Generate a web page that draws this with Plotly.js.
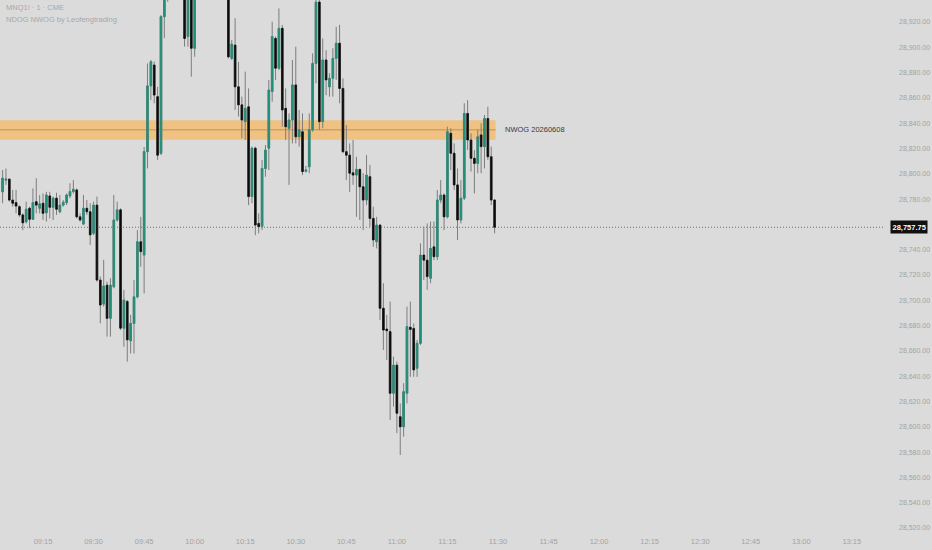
<!DOCTYPE html>
<html>
<head>
<meta charset="utf-8">
<script src="https://cdn.plot.ly/plotly-3.0.1.min.js"></script>
<style>
  html, body { margin: 0; padding: 0; background: #dbdbdb; }
  #chart { width: 932px; height: 550px; }
</style>
</head>
<body>
<div id="chart"></div>
<script>
// 1-minute candles, MNQ1!, session starting 09:03
const sessionDate = '2026-06-09';
const firstBar = '09:03';
const open = [28785.75,28795.0,28795.75,28779.25,28777.25,28774.0,28767.5,28762.0,28772.75,28764.0,
  28778.0,28772.75,28776.75,28769.25,28782.5,28773.5,28780.75,28770.0,28775.25,28777.25,
  28782.5,28786.0,28787.25,28766.0,28760.25,28772.75,28770.0,28753.0,28775.25,28716.0,
  28697.0,28712.0,28685.75,28710.75,28763.5,28771.5,28678.0,28699.0,28668.0,28681.75,
  28702.75,28746.25,28735.75,28817.5,28869.5,28886.0,28861.0,28816.25,28924.25,28939.75,
  28952.5,28961.0,28950.25,28959.5,28953.0,28908.5,28941.25,28899.25,28939.0,28955.0,
  28968.5,28964.0,28956.5,28969.0,28980.0,28970.5,28958.0,28950.0,28891.25,28901.75,
  28868.75,28854.5,28841.25,28853.0,28782.0,28820.25,28760.75,28758.5,28804.25,28820.25,
  28865.0,28907.0,28883.5,28915.0,28851.75,28836.0,28842.5,28870.25,28829.25,28833.25,
  28802.0,28805.5,28834.75,28887.25,28935.75,28841.25,28890.0,28868.75,28875.5,28891.25,
  28903.25,28867.5,28817.5,28814.75,28800.75,28799.0,28803.5,28789.75,28779.25,28797.75,
  28764.75,28746.25,28759.5,28693.75,28677.25,28675.25,28626.5,28648.75,28608.0,28600.0,
  28626.5,28678.75,28677.75,28646.25,28666.0,28735.75,28731.75,28717.5,28742.25,28734.5,
  28779.25,28783.25,28766.0,28832.0,28816.25,28791.25,28763.5,28780.75,28847.75,28826.75,
  28812.25,28808.25,28830.75,28821.5,28843.75,28813.5,28779.25];
const high = [28803.0,28804.25,28796.5,28787.25,28787.25,28775.25,28768.75,28778.0,28774.0,28788.5,
  28796.5,28783.25,28784.5,28785.75,28785.75,28782.0,28785.0,28783.25,28779.25,28784.5,
  28792.5,28795.0,28788.5,28768.75,28783.25,28779.25,28776.75,28778.0,28782.0,28718.75,
  28732.0,28714.75,28717.5,28783.25,28778.0,28772.75,28708.25,28700.25,28688.5,28716.0,
  28755.5,28766.0,28821.25,28887.25,28890.0,28888.75,28868.75,28925.5,28949.25,28958.0,
  28968.0,28972.0,28966.0,28970.0,28958.0,28948.0,28946.0,28952.0,28962.0,28975.0,
  28985.0,28978.0,28972.0,28988.0,28990.0,28978.0,28966.0,28956.0,28905.75,28923.0,
  28888.5,28861.0,28880.75,28867.5,28821.5,28821.5,28768.75,28811.0,28822.75,28874.25,
  28920.25,28908.5,28930.75,28917.75,28867.5,28847.75,28890.0,28900.5,28850.5,28847.75,
  28806.25,28847.75,28895.25,28945.25,28941.25,28907.0,28897.75,28879.5,28899.25,28916.25,
  28917.75,28875.5,28838.5,28824.0,28826.75,28813.5,28804.0,28800.5,28814.75,28807.0,
  28774.0,28766.0,28760.0,28713.5,28688.5,28699.0,28655.5,28651.5,28618.5,28634.5,
  28695.0,28699.0,28681.75,28668.75,28745.0,28758.25,28760.75,28762.25,28762.25,28787.25,
  28795.0,28784.5,28837.25,28836.0,28824.0,28804.25,28795.0,28855.75,28858.25,28832.0,
  28818.75,28834.75,28840.0,28846.5,28853.0,28821.5,28780.0];
const low = [28776.75,28791.25,28778.0,28774.0,28768.75,28766.0,28755.5,28760.75,28757.0,28763.5,
  28768.75,28768.75,28763.5,28762.25,28764.75,28763.5,28767.5,28768.75,28774.0,28775.25,
  28780.75,28784.5,28764.75,28762.25,28759.5,28767.5,28743.75,28751.5,28714.75,28681.75,
  28695.0,28671.25,28671.25,28709.5,28762.25,28676.5,28663.25,28651.5,28658.0,28658.0,
  28701.5,28726.5,28705.5,28804.25,28858.25,28855.75,28811.0,28814.75,28907.25,28936.0,
  28945.0,28948.0,28944.5,28950.0,28900.5,28900.5,28876.75,28892.5,28938.0,28950.0,
  28960.0,28952.0,28950.0,28962.0,28965.0,28952.0,28945.0,28891.25,28890.0,28850.5,
  28845.25,28828.0,28826.75,28775.25,28776.75,28751.5,28753.0,28755.5,28797.75,28803.0,
  28857.0,28874.25,28882.0,28837.25,28826.75,28791.25,28824.0,28824.0,28821.5,28799.0,
  28801.0,28800.5,28833.25,28871.5,28834.75,28836.0,28862.25,28861.0,28861.0,28874.25,
  28855.75,28816.25,28795.0,28785.75,28791.25,28766.0,28763.5,28755.5,28775.25,28758.25,
  28742.25,28741.0,28684.5,28660.75,28652.75,28605.5,28616.0,28595.0,28577.75,28592.25,
  28618.5,28639.5,28639.5,28639.5,28664.75,28716.0,28708.25,28713.5,28731.75,28731.75,
  28776.75,28755.5,28764.75,28803.0,28787.25,28747.75,28760.75,28779.25,28818.75,28801.75,
  28784.5,28800.5,28800.5,28804.25,28811.0,28775.25,28753.0];
const close = [28796.5,28795.75,28779.25,28776.75,28774.5,28767.5,28761.25,28772.0,28764.0,28777.25,
  28775.25,28776.25,28768.75,28783.25,28773.5,28780.75,28772.0,28775.25,28777.5,28783.25,
  28786.0,28787.75,28766.0,28763.5,28772.75,28770.0,28751.75,28775.25,28716.0,28696.25,
  28711.25,28685.75,28712.0,28763.5,28771.5,28678.0,28700.25,28668.75,28681.75,28702.75,
  28746.25,28738.5,28817.5,28869.5,28888.5,28862.25,28814.75,28924.25,28939.75,28952.5,
  28961.0,28950.25,28959.5,28953.0,28907.0,28941.25,28899.25,28939.0,28955.0,28968.5,
  28964.0,28956.5,28969.0,28980.0,28970.5,28958.0,28950.0,28892.5,28902.5,28868.75,
  28854.5,28842.5,28851.75,28782.0,28820.25,28759.5,28758.25,28804.25,28818.75,28866.25,
  28908.5,28883.5,28915.0,28850.5,28837.25,28842.5,28870.25,28829.25,28834.75,28801.75,
  28803.0,28834.75,28887.25,28935.75,28841.25,28890.0,28874.25,28875.5,28891.25,28903.25,
  28867.5,28817.5,28814.75,28800.5,28799.0,28803.5,28789.75,28779.25,28799.0,28764.75,
  28747.75,28759.5,28693.75,28676.5,28676.0,28626.5,28648.75,28610.75,28600.0,28627.75,
  28679.25,28677.0,28645.0,28666.0,28735.75,28731.75,28718.75,28741.0,28734.5,28779.25,
  28783.25,28766.0,28833.25,28816.25,28791.25,28763.5,28780.75,28847.75,28826.75,28812.25,
  28808.25,28829.25,28821.5,28843.75,28813.5,28779.25,28757.75];

// NWOG zone
const nwogTop = 28842.25;
const nwogBottom = 28827.0;
const nwogMid = 28834.75;
const nwogLabel = 'NWOG 20260608';
const titleLine1 = 'MNQ1! · 1 · CME';
const titleLine2 = 'NDOG NWOG by Leofengtrading';
const hiddenTickLabel = '28,760.00';

function fmtTime(d) {
  const p = n => String(n).padStart(2, '0');
  return d.getFullYear() + '-' + p(d.getMonth() + 1) + '-' + p(d.getDate()) + ' ' +
         p(d.getHours()) + ':' + p(d.getMinutes()) + ':' + p(d.getSeconds());
}
const t0 = new Date(sessionDate + 'T' + firstBar + ':00');
const times = open.map((_, i) => fmtTime(new Date(t0.getTime() + i * 60000)));
const lastClose = close[close.length - 1];
const lastT = new Date(t0.getTime() + (open.length - 1) * 60000);

const bodyHigh = open.map((o, i) => Math.max(o, close[i]));
const bodyLow = open.map((o, i) => Math.min(o, close[i]));

const up = '#22907a', down = '#0c0c0c', wick = '#7d7d7d';

const wicks = {
  type: 'candlestick', x: times, open: open, high: high, low: low, close: close,
  increasing: { line: { color: wick, width: 1 }, fillcolor: wick },
  decreasing: { line: { color: wick, width: 1 }, fillcolor: wick },
  whiskerwidth: 0, hoverinfo: 'skip', showlegend: false
};
const bodies = {
  type: 'candlestick', x: times, open: open, high: bodyHigh, low: bodyLow, close: close,
  increasing: { line: { color: up, width: 0.6 }, fillcolor: up },
  decreasing: { line: { color: down, width: 0.6 }, fillcolor: down },
  whiskerwidth: 0, showlegend: false
};

const xStart = fmtTime(new Date(t0.getTime() - 0.76 * 60000));
const xEnd = fmtTime(new Date(t0.getTime() + 261.55 * 60000));
const bandEnd = fmtTime(new Date(lastT.getTime() + 0.3 * 60000));
const labelX = fmtTime(new Date(lastT.getTime() + 2.6 * 60000));

const grey = '#a3a3a3';
const labelAlias = {};
labelAlias[hiddenTickLabel] = '';

const layout = {
  width: 932, height: 550,
  paper_bgcolor: '#dbdbdb', plot_bgcolor: '#dbdbdb',
  margin: { l: 0, r: 48, t: 0, b: 18 },
  showlegend: false,
  font: { family: 'Liberation Sans, Arial, sans-serif', color: grey, size: 7.5 },
  xaxis: {
    type: 'date', range: [xStart, xEnd], rangeslider: { visible: false },
    showgrid: false, zeroline: false, showline: false, ticks: '',
    tick0: sessionDate + ' 09:15:00', dtick: 15 * 60000, tickformat: '%H:%M',
    tickfont: { size: 7.5, color: grey }, ticklabelstandoff: 3, fixedrange: true
  },
  yaxis: {
    side: 'right', range: [28516.85, 28937.4], showgrid: false, zeroline: false,
    showline: false, ticks: '', tick0: 28520, dtick: 20, tickformat: ',.2f',
    labelalias: labelAlias,
    tickfont: { size: 7, color: grey }, ticklabelstandoff: 14, fixedrange: true
  },
  shapes: [
    { type: 'rect', layer: 'below', xref: 'x', x0: xStart, x1: bandEnd, yref: 'y', y0: nwogBottom, y1: nwogTop,
      line: { width: 0 }, fillcolor: '#efc283' },
    { type: 'line', layer: 'below', xref: 'x', x0: xStart, x1: bandEnd, yref: 'y', y0: nwogMid, y1: nwogMid,
      line: { color: '#c4904e', width: 1 } },
    { type: 'line', layer: 'below', xref: 'paper', x0: 0, x1: 1, yref: 'y', y0: lastClose, y1: lastClose,
      line: { color: '#6f6f6f', width: 1, dash: '1px,2px' } }
  ],
  annotations: [
    { xref: 'x', x: labelX, yref: 'y', y: nwogMid, text: nwogLabel, showarrow: false,
      xanchor: 'left', yanchor: 'middle', font: { size: 7.5, color: '#3a3a3a' } },
    { xref: 'paper', x: 1, xanchor: 'right', xshift: 44, yref: 'y', y: lastClose,
      text: '<b>' + lastClose.toLocaleString('en-US', { minimumFractionDigits: 2 }) + '</b>',
      showarrow: false, bgcolor: '#111111', borderpad: 1.5, font: { size: 7.5, color: '#ffffff' } },
    { xref: 'paper', yref: 'paper', x: 0.004, y: 1, yshift: -7, xanchor: 'left', yanchor: 'middle',
      text: titleLine1, showarrow: false, font: { size: 7.5, color: '#a8a8a8' } },
    { xref: 'paper', yref: 'paper', x: 0.004, y: 1, yshift: -19, xanchor: 'left', yanchor: 'middle',
      text: titleLine2, showarrow: false, font: { size: 7.5, color: '#a8a8a8' } }
  ]
};

Plotly.newPlot('chart', [wicks, bodies], layout, { staticPlot: true, displayModeBar: false });
</script>
</body>
</html>
